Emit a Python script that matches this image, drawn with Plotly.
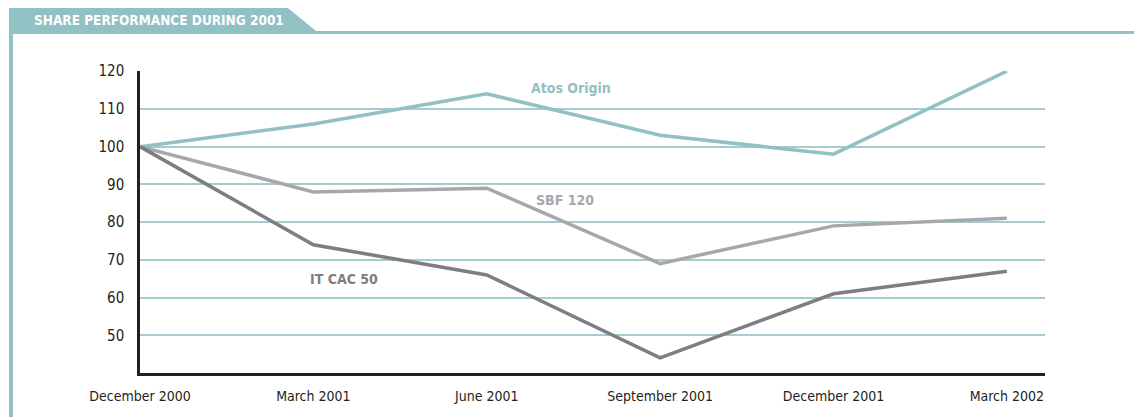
import plotly.graph_objects as go

categories = ["December 2000", "March 2001", "June 2001", "September 2001", "December 2001", "March 2002"]
atos = [100, 106, 114, 103, 98, 120]
sbf = [100, 88, 89, 69, 79, 81]
itcac = [100, 74, 66, 44, 61, 67]
y_ticks = [50, 60, 70, 80, 90, 100, 110, 120]

W, H = 1134, 417
L, R, T, B = 140, 1045, 71, 373

def px(x):
    return (x - L) / (R - L)

def py(y):
    return (B - y) / (B - T)

FONT = "Liberation Sans Narrow, DejaVu Sans Condensed, Arial Narrow, sans-serif"
TEAL = "#92c1c3"
GRID = "#a3cdcf"
LIGHT = "#a8a8ab"
DARK = "#7e7e82"

xs = list(range(len(categories)))

fig = go.Figure()
fig.add_trace(go.Scatter(x=xs, y=atos, mode="lines", line=dict(color=TEAL, width=3.5), name="Atos Origin"))
fig.add_trace(go.Scatter(x=xs, y=sbf, mode="lines", line=dict(color=LIGHT, width=3.5), name="SBF 120"))
fig.add_trace(go.Scatter(x=xs, y=itcac, mode="lines", line=dict(color=DARK, width=3.5), name="IT CAC 50"))

# frame path in paper coordinates
pts = [(9, 8), (288, 8), (316, 31), (1134, 31), (1134, 34), (13, 34), (13, 417), (9, 417)]
path = "M " + " L ".join(f"{px(a):.5f} {py(b):.5f}" for a, b in pts) + " Z"

fig.update_layout(
    width=W, height=H,
    margin=dict(l=L, r=W - R, t=T, b=H - B),
    paper_bgcolor="white", plot_bgcolor="white",
    showlegend=False,
    font=dict(family=FONT, size=14, color="#231f20"),
    xaxis=dict(
        range=[0, 5.22], tickvals=xs, ticktext=categories,
        showgrid=False, zeroline=False, showline=True, linecolor="#231f20", linewidth=2.5,
        ticks="", ticklabelstandoff=8, tickfont=dict(size=14, family=FONT, color="#231f20"),
    ),
    yaxis=dict(
        range=[40, 120.05], tickvals=y_ticks,
        showgrid=True, gridcolor=GRID, gridwidth=1.5, zeroline=False,
        showline=True, linecolor="#231f20", linewidth=2.5,
        ticks="", ticklabelstandoff=10, tickfont=dict(size=15, family=FONT, color="#231f20"),
    ),
    shapes=[dict(type="path", path=path, xref="paper", yref="paper", fillcolor=TEAL, line=dict(width=0), layer="above")],
    annotations=[
        dict(text="<b>SHARE PERFORMANCE DURING 2001</b>", xref="paper", yref="paper",
             x=px(32), y=py(20), xanchor="left", yanchor="middle", showarrow=False,
             font=dict(family=FONT, size=13.5, color="white")),
        dict(text="<b>Atos Origin</b>", xref="paper", yref="paper", x=px(571), y=py(88),
             xanchor="center", yanchor="middle", showarrow=False, font=dict(family=FONT, size=14, color=TEAL)),
        dict(text="<b>SBF 120</b>", xref="paper", yref="paper", x=px(565), y=py(200),
             xanchor="center", yanchor="middle", showarrow=False, font=dict(family=FONT, size=14, color=LIGHT)),
        dict(text="<b>IT CAC 50</b>", xref="paper", yref="paper", x=px(344), y=py(279),
             xanchor="center", yanchor="middle", showarrow=False, font=dict(family=FONT, size=14, color=DARK)),
    ],
)

fig.write_html("out.html")
